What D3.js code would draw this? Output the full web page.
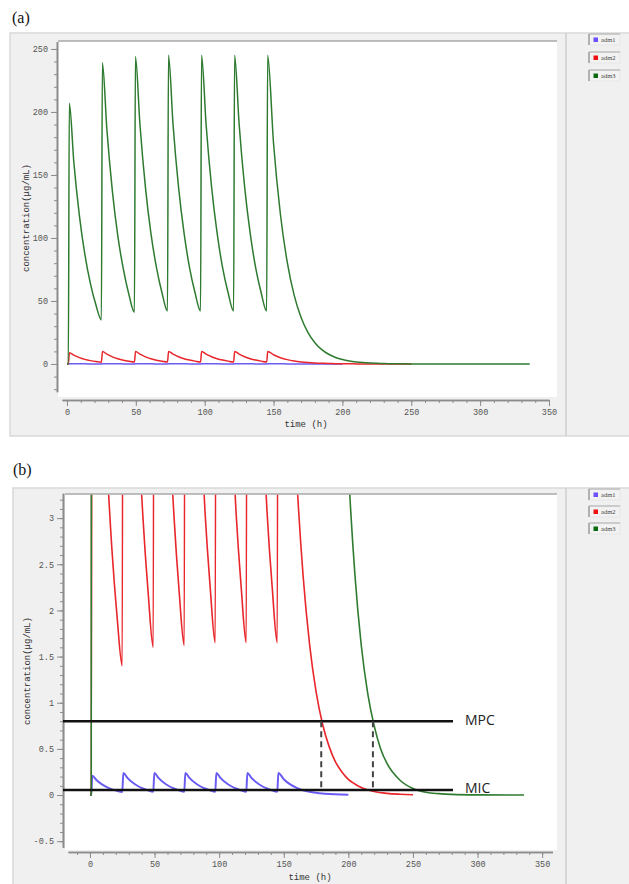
<!DOCTYPE html>
<html><head><meta charset="utf-8">
<script src="https://cdn.jsdelivr.net/npm/d3@7"></script>
<style>body{margin:0;background:#fff;} svg{display:block}</style>
</head><body>
<svg id="chart" width="629" height="884"></svg>
<script>
// ---------- data ----------
const seriesNames = ["adm1", "adm2", "adm3"];
const seriesColors = ["#6a5cf2", "#e8262b", "#2e7b30"];
const swatchColors = ["#6a50ff", "#ee1111", "#0a6a12"];

const adm1Time = [0, 1, 1.8, 5, 9, 13, 17, 21, 25,
  25.8, 29, 33, 37, 41, 45, 49,
  49.8, 53, 57, 61, 65, 69, 73,
  73.8, 77, 81, 85, 89, 93, 97,
  97.8, 101, 105, 109, 113, 117, 121,
  121.8, 125, 129, 133, 137, 141, 145,
  145.8, 150, 155, 160, 165, 170, 175, 180, 190, 200];
const adm1Conc = [0, 0, 0.21, 0.163, 0.118, 0.085, 0.062, 0.045, 0.033,
  0.24, 0.186, 0.135, 0.098, 0.071, 0.051, 0.037,
  0.24, 0.186, 0.135, 0.098, 0.071, 0.051, 0.037,
  0.24, 0.186, 0.135, 0.098, 0.071, 0.051, 0.037,
  0.24, 0.186, 0.135, 0.098, 0.071, 0.051, 0.037,
  0.24, 0.186, 0.135, 0.098, 0.071, 0.051, 0.037,
  0.24, 0.172, 0.115, 0.078, 0.052, 0.035, 0.024, 0.016, 0.008, 0.004];

const adm2Time = [0, 1, 1.8, 5, 9, 13, 17, 21, 25,
  25.8, 29, 33, 37, 41, 45, 49,
  49.8, 53, 57, 61, 65, 69, 73,
  73.8, 77, 81, 85, 89, 93, 97,
  97.8, 101, 105, 109, 113, 117, 121,
  121.8, 125, 129, 133, 137, 141, 145,
  145.8, 150, 155, 160, 165, 170, 175, 180, 185, 190, 195, 200, 205, 210, 220, 230, 240, 250];
const adm2Conc = [0, 0, 9.0, 6.97, 5.05, 3.66, 2.66, 1.93, 1.40,
  10.0, 7.75, 5.65, 4.12, 3.01, 2.2, 1.60,
  10.0, 7.76, 5.67, 4.14, 3.03, 2.21, 1.62,
  10.0, 7.8, 5.72, 4.2, 3.08, 2.26, 1.65,
  10.0, 7.8, 5.72, 4.2, 3.08, 2.26, 1.65,
  10.0, 7.8, 5.72, 4.2, 3.08, 2.26, 1.65,
  10.0, 7.3, 5.0, 3.45, 2.37, 1.63, 1.12, 0.77, 0.53, 0.36, 0.25, 0.17, 0.12, 0.081, 0.038, 0.018, 0.009, 0.004];

const adm3Time = [0, 1, 1.7, 5, 9, 13, 17, 21, 25,
  25.7, 29, 33, 37, 41, 45, 49,
  49.7, 53, 57, 61, 65, 69, 73,
  73.7, 77, 81, 85, 89, 93, 97,
  97.7, 101, 105, 109, 113, 117, 121,
  121.7, 125, 129, 133, 137, 141, 145,
  145.7, 150, 155, 160, 165, 170, 175, 180, 185, 190, 195, 200, 205, 210, 215, 220, 225, 230, 240, 250, 260, 270, 280, 300, 336];
const adm3Conc = [0, 0, 207, 160, 118, 87, 64, 47, 35,
  239, 186, 137, 101, 75, 55, 41,
  244, 190, 140, 103.5, 76.5, 56.5, 42,
  245, 190.5, 140.5, 104, 76.5, 56.5, 42,
  245, 190.5, 140.5, 104, 76.5, 56.5, 42,
  245, 190.5, 140.5, 104, 76.5, 56.5, 42,
  245, 175, 118.6, 80.4, 54.4, 36.8, 24.9, 16.9, 11.4, 7.7, 5.2, 3.55, 2.4, 1.62, 1.1, 0.75, 0.5, 0.34, 0.16, 0.07, 0.03, 0.015, 0.007, 0.002, 0];

const xTickValues = [0, 50, 100, 150, 200, 250, 300, 350];
const yTickValuesA = [0, 50, 100, 150, 200, 250];
const yTickValuesB = [-0.5, 0, 0.5, 1, 1.5, 2, 2.5, 3];
const yTickLabelsB = ["-0.5", "0", "0.5", "1", "1.5", "2", "2.5", "3"];

const thresholdLabels = ["MPC", "MIC"];
const thresholdValues = [0.8, 0.055];
const thresholdEnd = 281;
const crossTimes = [179, 219];

const xTitle = "time (h)";
const yTitle = "concentration(μg/mL)";

// ---------- layout ----------
const svg = d3.select("#chart");
const series = seriesNames.map((n, i) => ({
  name: n,
  color: seriesColors[i],
  swatch: swatchColors[i],
  data: d3.zip([adm1Time, adm2Time, adm3Time][i], [adm1Conc, adm2Conc, adm3Conc][i])
}));

const panels = [
  { id: "a", label: "(a)", labelX: 12, labelY: 23,
    frame: { x: 10, y: 33, w: 630, h: 403 }, sep: 566,
    plot: { x: 58, y: 41, w: 499, h: 356 },
    xDomain: [-3.6, 350], xRange: [62, 549], axisY: 400, xMinorFrom: 0,
    yDomain: [-22, 256], yRange: [391.7, 41.4], axisX: 57,
    yTicks: yTickValuesA, yLabels: yTickValuesA.map(String), yMinorStep: 10, yMinorFrom: -20, yMinorTo: 250,
    legendTops: [34, 52, 70], titleX: 306, titleY: 427, yTitleX: 27, yTitleY: 218, thresholds: false, lineW: 1.5 },
  { id: "b", label: "(b)", labelX: 13, labelY: 475,
    frame: { x: 13, y: 488, w: 630, h: 400 }, sep: 566,
    plot: { x: 65, y: 494, w: 492, h: 356 },
    xDomain: [-17, 358], xRange: [68, 552.5], axisY: 852, xMinorFrom: -10,
    yDomain: [-0.565, 3.27], yRange: [847.2, 493.2], axisX: 63,
    yTicks: yTickValuesB, yLabels: yTickLabelsB, yMinorStep: 0.1, yMinorFrom: -0.5, yMinorTo: 3.2,
    legendTops: [489, 506, 523], titleX: 310, titleY: 880, yTitleX: 28, yTitleY: 671, thresholds: true, lineW: 1.6 }
];

const tickFont = "Liberation Mono, DejaVu Sans Mono, monospace";

panels.forEach(p => {
  const g = svg.append("g");
  g.append("text").attr("x", p.labelX).attr("y", p.labelY)
    .attr("font-family", "Liberation Serif, Times New Roman, serif").attr("font-size", 16)
    .attr("fill", "#111").text(p.label);
  g.append("rect").attr("x", p.frame.x).attr("y", p.frame.y)
    .attr("width", p.frame.w).attr("height", p.frame.h)
    .attr("fill", "#f0f0f0").attr("stroke", "#d9d9d9").attr("stroke-width", 1.5);
  g.append("line").attr("x1", p.sep).attr("x2", p.sep)
    .attr("y1", p.frame.y).attr("y2", p.frame.y + p.frame.h)
    .attr("stroke", "#cfcfcf").attr("stroke-width", 1.5);
  g.append("rect").attr("x", p.plot.x).attr("y", p.plot.y)
    .attr("width", p.plot.w).attr("height", p.plot.h).attr("fill", "#fff");
  g.append("line").attr("x1", p.plot.x).attr("x2", p.plot.x + p.plot.w)
    .attr("y1", p.plot.y).attr("y2", p.plot.y)
    .attr("stroke", "#a8a8a8").attr("stroke-width", 1.5);

  const x = d3.scaleLinear().domain(p.xDomain).range(p.xRange);
  const y = d3.scaleLinear().domain(p.yDomain).range(p.yRange);

  const styleAxis = sel => {
    sel.selectAll("path.domain").attr("stroke", "#8c8c8c").attr("stroke-width", 1.6);
    sel.selectAll(".tick line").attr("stroke", "#8c8c8c");
    sel.selectAll(".tick text").attr("fill", "#555").attr("font-family", tickFont).attr("font-size", 8.5);
  };
  const yMinor = d3.range(p.yMinorFrom, p.yMinorTo + p.yMinorStep / 2, p.yMinorStep);
  g.append("g").attr("transform", `translate(${p.axisX},0)`)
    .call(d3.axisLeft(y).tickValues(yMinor).tickSize(3).tickSizeOuter(0).tickFormat(""))
    .call(styleAxis);
  g.append("g").attr("transform", `translate(${p.axisX},0)`)
    .call(d3.axisLeft(y).tickValues(p.yTicks).tickSize(6).tickSizeOuter(0).tickPadding(3)
      .tickFormat((d, i) => p.yLabels[i]))
    .call(styleAxis);
  const xMinor = d3.range(p.xMinorFrom, 351, 10);
  g.append("g").attr("transform", `translate(0,${p.axisY})`)
    .call(d3.axisBottom(x).tickValues(xMinor).tickSize(3).tickSizeOuter(0).tickFormat(""))
    .call(styleAxis);
  g.append("g").attr("transform", `translate(0,${p.axisY})`)
    .call(d3.axisBottom(x).tickValues(xTickValues).tickSize(6).tickSizeOuter(0).tickPadding(3))
    .call(styleAxis);

  g.append("text").attr("x", p.titleX).attr("y", p.titleY).attr("text-anchor", "middle")
    .attr("font-family", tickFont).attr("font-size", 9).attr("fill", "#333").text(xTitle);
  g.append("text").attr("transform", `translate(${p.yTitleX},${p.yTitleY}) rotate(-90)`)
    .attr("text-anchor", "middle").attr("dominant-baseline", "central")
    .attr("font-family", tickFont).attr("font-size", 9).attr("fill", "#333").text(yTitle);

  const clipId = "clip-" + p.id;
  svg.append("clipPath").attr("id", clipId).append("rect")
    .attr("x", p.plot.x).attr("y", p.plot.y + 0.8).attr("width", p.plot.w).attr("height", p.plot.h - 0.8);
  const plotG = g.append("g").attr("clip-path", `url(#${clipId})`);

  const line = d3.line().x(d => x(d[0])).y(d => y(d[1])).curve(d3.curveMonotoneX);
  series.forEach(s => {
    plotG.append("path").attr("d", line(s.data)).attr("fill", "none")
      .attr("stroke", s.color).attr("stroke-width", s.name === "adm1" && p.thresholds ? 2 : p.lineW)
      .attr("stroke-linejoin", "round");
  });

  if (p.thresholds) {
    thresholdValues.forEach((v, i) => {
      g.append("line").attr("x1", p.axisX).attr("x2", x(thresholdEnd))
        .attr("y1", y(v)).attr("y2", y(v)).attr("stroke", "#111").attr("stroke-width", 2.6);
      g.append("text").attr("x", x(thresholdEnd) + 12).attr("y", y(v) - 2)
        .attr("dominant-baseline", "central")
        .attr("font-family", "Open Sans, Noto Sans, sans-serif").attr("font-size", 14)
        .attr("fill", "#222").text(thresholdLabels[i]);
    });
    crossTimes.forEach(t => {
      g.append("line").attr("x1", x(t)).attr("x2", x(t))
        .attr("y1", y(thresholdValues[0])).attr("y2", y(thresholdValues[1]))
        .attr("stroke", "#444").attr("stroke-width", 2).attr("stroke-dasharray", "6,4");
    });
  }

  series.forEach((s, i) => {
    const top = p.legendTops[i];
    const lg = g.append("g");
    lg.append("rect").attr("x", 589).attr("y", top).attr("width", 31).attr("height", 11)
      .attr("fill", "#f2f2f2").attr("stroke", "#e4e4e4").attr("stroke-width", 0.8);
    lg.append("line").attr("x1", 589).attr("x2", 589).attr("y1", top).attr("y2", top + 11)
      .attr("stroke", "#777").attr("stroke-width", 1);
    lg.append("line").attr("x1", 589).attr("x2", 620).attr("y1", top).attr("y2", top)
      .attr("stroke", "#aaa").attr("stroke-width", 1);
    lg.append("rect").attr("x", 593.5).attr("y", top + 3.5).attr("width", 4.5).attr("height", 4.5)
      .attr("fill", s.swatch);
    lg.append("text").attr("x", 601).attr("y", top + 8.2)
      .attr("font-family", "Liberation Serif, serif").attr("font-size", 6.5).attr("fill", "#444")
      .text(s.name);
  });
});
</script>
</body></html>
